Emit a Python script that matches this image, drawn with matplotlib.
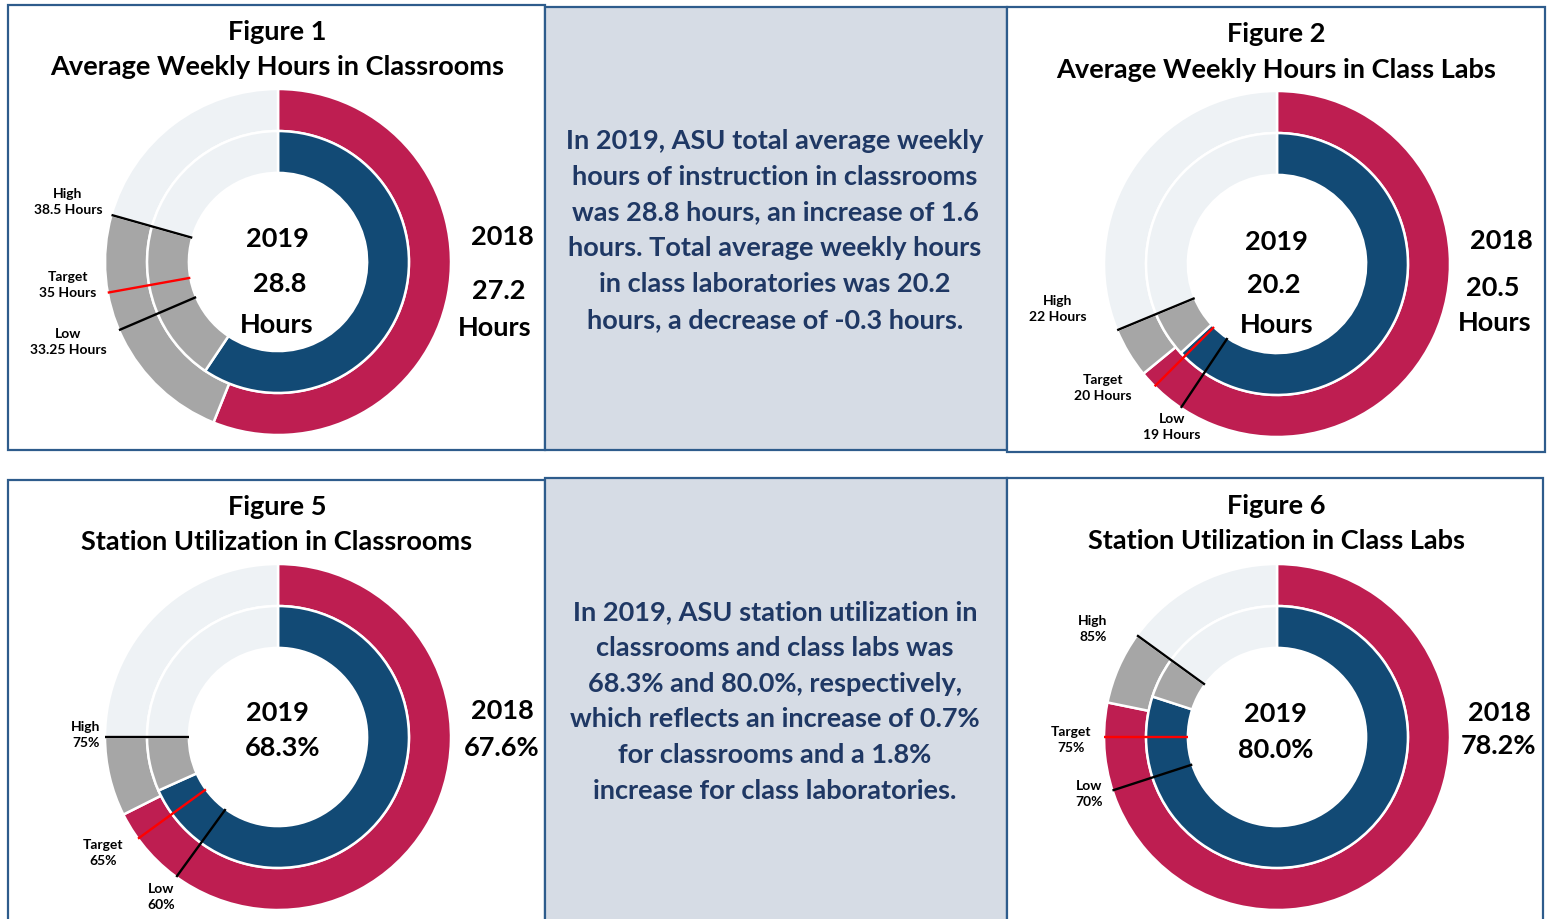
import matplotlib
matplotlib.use('Agg')
import matplotlib.pyplot as plt
from matplotlib.patches import Rectangle
import numpy as np

W, H = 1548, 919

# ---- data ----
fig_numbers = ['Figure 1', 'Figure 2', 'Figure 5', 'Figure 6']
fig_titles = ['Average Weekly Hours in Classrooms', 'Average Weekly Hours in Class Labs',
              'Station Utilization in Classrooms', 'Station Utilization in Class Labs']
is_hours = [True, True, False, False]
scale_max = [48.5, 32.0, 100.0, 100.0]   # value that fills the full circle
val_2018 = [27.2, 20.5, 67.6, 78.2]
val_2019 = [28.8, 20.2, 68.3, 80.0]
high = [38.5, 22, 75, 85]
target = [35, 20, 65, 75]
low = [33.25, 19, 60, 70]

text_top = ['In 2019, ASU total average weekly', 'hours of instruction in classrooms',
            'was 28.8 hours, an increase of 1.6', 'hours. Total average weekly hours',
            'in class laboratories was 20.2', 'hours, a decrease of -0.3 hours.']
text_bottom = ['In 2019, ASU station utilization in', 'classrooms and class labs was',
               '68.3% and 80.0%, respectively,', 'which reflects an increase of 0.7%',
               'for classrooms and a 1.8%', 'increase for class laboratories.']

# ---- styling / layout ----
RED = '#BE1E51'
BLUE = '#124A75'
GRAY = '#A6A6A6'
LIGHT = '#EEF2F5'
NAVY = '#1F3864'
BORDER = '#2E5C8C'
PANEL_BG = '#D6DCE5'
FONT = 'Lato'

centers = [(278, 262), (1277, 264), (278, 737), (1277, 737)]
R = 173
title_y = [(32, 67), (34, 70), (507, 542), (506, 541)]
c19_y = [(239, 284, 325), (242, 285, 325), (713, 748), (714, 750)]
c19_x = [(277, 280, 277), (1276, 1274, 1277), (277, 283), (1275, 1276)]
c18_y = [(237, 291, 328), (241, 288, 323), (711, 748), (713, 746)]
c18_x = [(502, 499, 495), (1501, 1493, 1495), (502, 502), (1499, 1499)]
# (high, target, low) label anchors, centre of the two-line block
lab_xy = [[(68, 202), (68, 285), (68, 342)],
          [(1058, 309), (1103, 388), (1172, 427)],
          [(86, 735), (103, 853), (161, 897)],
          [(1093, 629), (1071, 740), (1089, 794)]]

fig = plt.figure(figsize=(W / 100, H / 100), dpi=100)
bg = fig.add_axes([0, 0, 1, 1])
bg.set_xlim(0, W)
bg.set_ylim(H, 0)
bg.axis('off')

# panels
panels = [(8, 5, 537, 445, 'white'), (545, 7, 462, 443, PANEL_BG), (1007, 7, 538, 445, 'white'),
          (8, 480, 537, 445, 'white'), (545, 478, 462, 445, PANEL_BG), (1007, 478, 536, 445, 'white')]
for x0, y0, w, h, fc in panels:
    bg.add_patch(Rectangle((x0, y0), w, h, facecolor=fc, edgecolor=BORDER, linewidth=1.6))

for lines, y0 in [(text_top, 141), (text_bottom, 612)]:
    for i, ln in enumerate(lines):
        bg.text(775, y0 + i * 35.8, ln, ha='center', va='center', fontsize=19.5,
                fontweight='bold', color=NAVY, family=FONT)

for k in range(4):
    cx, cy = centers[k]
    bg.text(cx - 1, title_y[k][0], fig_numbers[k], ha='center', va='center',
            fontsize=19.5, fontweight='bold', color='black', family=FONT)
    bg.text(cx - 1, title_y[k][1], fig_titles[k], ha='center', va='center',
            fontsize=19.5, fontweight='bold', color='black', family=FONT)

    if is_hours[k]:
        s19 = ['2019', f'{val_2019[k]:.1f}', 'Hours']
        s18 = ['2018', f'{val_2018[k]:.1f}', 'Hours']
        fmt = lambda v: f'{v:g} Hours'
    else:
        s19 = ['2019', f'{val_2019[k]:.1f}%']
        s18 = ['2018', f'{val_2018[k]:.1f}%']
        fmt = lambda v: f'{v:g}%'
    for s, x, y in zip(s19, c19_x[k], c19_y[k]):
        bg.text(x, y, s, ha='center', va='center', fontsize=19.5, fontweight='bold',
                color='black', family=FONT)
    for s, x, y in zip(s18, c18_x[k], c18_y[k]):
        bg.text(x, y, s, ha='center', va='center', fontsize=19.5, fontweight='bold',
                color='black', family=FONT)
    for name, v, (lx, ly) in zip(['High', 'Target', 'Low'], [high[k], target[k], low[k]], lab_xy[k]):
        bg.text(lx, ly, f'{name}\n{fmt(v)}', ha='center', va='center', fontsize=10,
                fontweight='bold', color='black', family=FONT, linespacing=1.35)

    # donut axes
    ax = fig.add_axes([(cx - R) / W, (H - cy - R) / H, 2 * R / W, 2 * R / H])
    T = scale_max[k]
    outer = [val_2018[k], high[k] - val_2018[k], T - high[k]]
    inner = [val_2019[k], high[k] - val_2019[k], T - high[k]]
    wp = dict(edgecolor='white', linewidth=1.8)
    ax.pie(outer, radius=1.0, colors=[RED, GRAY, LIGHT], startangle=90, counterclock=False,
           wedgeprops=dict(width=0.243, **wp))
    ax.pie(inner, radius=0.757, colors=[BLUE, GRAY, LIGHT], startangle=90, counterclock=False,
           wedgeprops=dict(width=0.242, **wp))
    for v, col in [(high[k], 'black'), (target[k], 'red'), (low[k], 'black')]:
        th = np.radians(360 * v / T)
        r = np.array([0.515, 1.0])
        ax.plot(r * np.sin(th), r * np.cos(th), color=col, lw=1.7, solid_capstyle='butt')
    ax.set_xlim(-1, 1)
    ax.set_ylim(-1, 1)
    ax.set_aspect('equal')
    ax.axis('off')

fig.savefig('out.png', dpi=100)
